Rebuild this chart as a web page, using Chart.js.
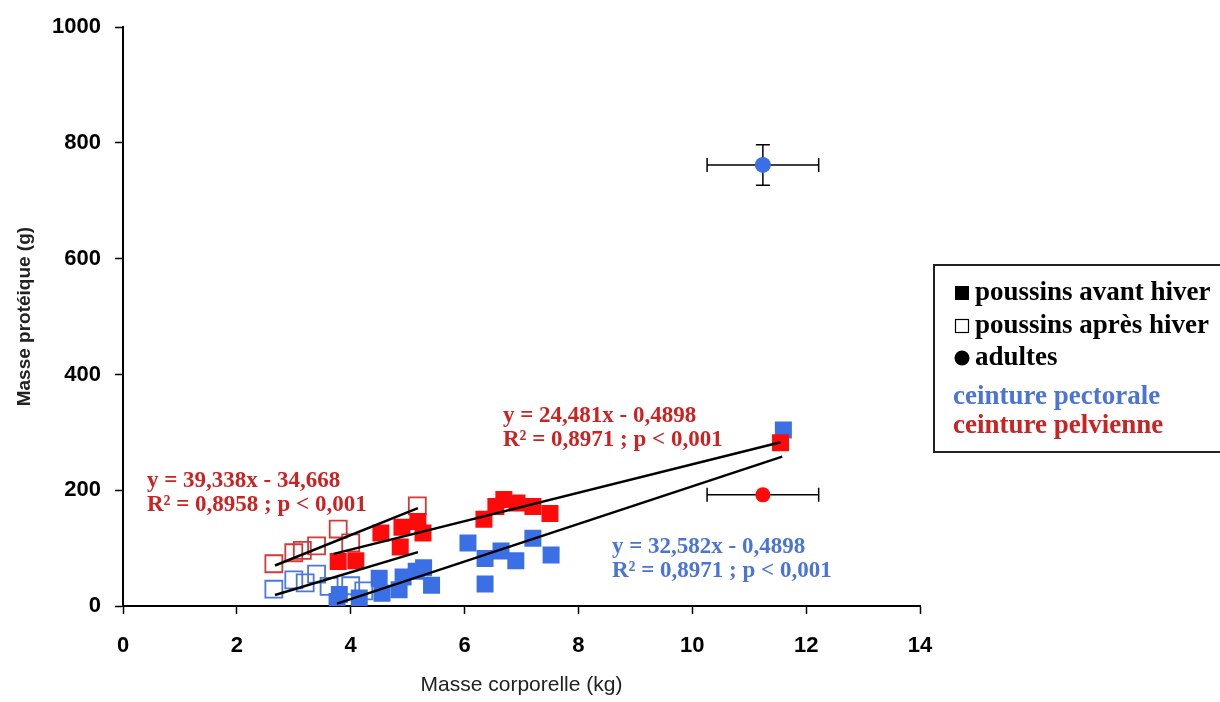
<!DOCTYPE html>
<html><head><meta charset="utf-8">
<script src="https://cdn.jsdelivr.net/npm/chart.js@4/dist/chart.umd.min.js"></script>
<style>html,body{margin:0;padding:0;background:#fff;}#wrap{width:1220px;height:702px;position:relative;}</style>
</head><body><div id="wrap"><canvas id="c" width="1220" height="702"></canvas></div>
<script>
// ---- data ----
const xTickValues = [0, 2, 4, 6, 8, 10, 12, 14];
const yTickValues = [0, 200, 400, 600, 800, 1000];

// ceinture pectorale (blue) – poussins avant hiver (filled squares)
const pectAvantX = [3.76, 3.80, 4.15, 4.50, 4.55, 4.85, 4.92, 5.15, 5.28, 5.42, 6.06, 6.36, 6.36, 6.64, 6.90, 7.20, 7.52, 11.60];
const pectAvantY = [8, 20, 14, 48, 22, 28, 50, 60, 66, 36, 109, 82, 38, 95, 78, 117, 88, 304];
// ceinture pectorale – poussins après hiver (hollow squares)
const pectApresX = [2.65, 3.00, 3.20, 3.40, 3.62, 4.00, 4.23];
const pectApresY = [29, 45, 40, 55, 34, 35, 26];
// ceinture pelvienne (red) – poussins avant hiver
const pelvAvantX = [3.78, 4.09, 4.53, 4.87, 4.90, 5.18, 5.27, 6.34, 6.55, 6.69, 6.92, 7.20, 7.50, 11.55];
const pelvAvantY = [77, 78, 126, 102, 136, 146, 126, 150, 172, 184, 178, 172, 160, 282];
// ceinture pelvienne – poussins après hiver
const pelvApresX = [2.65, 3.00, 3.15, 3.40, 3.78, 4.00, 5.17];
const pelvApresY = [73, 92, 96, 104, 133, 109, 173];
// adultes (mean ± error)
const adultPectX = [11.24], adultPectY = [762], adultPectXErr = [0.98], adultPectYErr = [35];
const adultPelvX = [11.24], adultPelvY = [192], adultPelvXErr = [0.98], adultPelvYErr = [0];
// regression lines (end points)
const trendPelvApresX = [2.67, 5.18], trendPelvApresY = [70, 169];
const trendPelvAvantX = [3.70, 11.55], trendPelvAvantY = [90, 283];
const trendPectApresX = [2.67, 5.18], trendPectApresY = [19, 93];
const trendPectAvantX = [3.76, 11.58], trendPectAvantY = [4, 258];

const equationsPelvApres = ['y = 39,338x - 34,668', 'R² = 0,8958 ; p < 0,001'];
const equationsPelvAvant = ['y = 24,481x - 0,4898', 'R² = 0,8971 ; p < 0,001'];
const equationsPectAvant = ['y = 32,582x - 0,4898', 'R² = 0,8971 ; p < 0,001'];
const legendLabels = ['poussins avant hiver', 'poussins après hiver', 'adultes', 'ceinture pectorale', 'ceinture pelvienne'];
const xTitle = 'Masse corporelle (kg)';
const yTitle = 'Masse protéique (g)';

// ---- styling ----
const BLUE = '#3b6fe6', RED = '#ff0a0a', RED_HOLLOW = '#d23a3a', BLUE_HOLLOW = '#4a78e0';
const RED_TXT = '#cc2222', BLUE_TXT = '#4a74d8';
const pts = (xs, ys) => xs.map((x, i) => ({x: x, y: ys[i]}));

function trend(xs, ys) {
  return {type: 'line', data: pts(xs, ys), borderColor: '#000', borderWidth: 2.5, pointRadius: 0,
    showLine: true, fill: false, order: 0, tension: 0};
}
function squares(xs, ys, color, filled) {
  return {type: 'scatter', data: pts(xs, ys), pointStyle: 'rect', pointRadius: 12, pointHoverRadius: 12,
    backgroundColor: filled ? color : 'rgba(255,255,255,0)', borderColor: color, borderWidth: filled ? 0 : 1.8, order: filled ? 2 : 3};
}
function circles(xs, ys, color, r) {
  return {type: 'scatter', data: pts(xs, ys), pointStyle: 'circle', pointRadius: r, pointHoverRadius: r,
    backgroundColor: color, borderColor: color, borderWidth: 0, order: 1};
}

const errorBars = {
  id: 'errorBars',
  beforeDatasetsDraw(chart) {
    const {ctx, scales: {x, y}} = chart;
    const sets = [[adultPectX, adultPectY, adultPectXErr, adultPectYErr], [adultPelvX, adultPelvY, adultPelvXErr, adultPelvYErr]];
    ctx.save();
    ctx.strokeStyle = '#000'; ctx.lineWidth = 1.5;
    sets.forEach(([xs, ys, xe, ye]) => {
      xs.forEach((xv, i) => {
        const cx = x.getPixelForValue(xv), cy = y.getPixelForValue(ys[i]);
        if (xe[i]) {
          const x1 = x.getPixelForValue(xv - xe[i]), x2 = x.getPixelForValue(xv + xe[i]);
          ctx.beginPath(); ctx.moveTo(x1, cy); ctx.lineTo(x2, cy);
          ctx.moveTo(x1, cy - 7); ctx.lineTo(x1, cy + 7);
          ctx.moveTo(x2, cy - 7); ctx.lineTo(x2, cy + 7); ctx.stroke();
        }
        if (ye[i]) {
          const y1 = y.getPixelForValue(ys[i] - ye[i]), y2 = y.getPixelForValue(ys[i] + ye[i]);
          ctx.beginPath(); ctx.moveTo(cx, y1); ctx.lineTo(cx, y2);
          ctx.moveTo(cx - 7, y1); ctx.lineTo(cx + 7, y1);
          ctx.moveTo(cx - 7, y2); ctx.lineTo(cx + 7, y2); ctx.stroke();
        }
      });
    });
    ctx.restore();
  }
};

const annotations = {
  id: 'annotations',
  afterDatasetsDraw(chart) {
    const ctx = chart.ctx;
    ctx.save();
    ctx.font = 'bold 23px "Liberation Serif", "Times New Roman", serif';
    ctx.textBaseline = 'middle'; ctx.textAlign = 'left';
    const put = (lines, color, x0, y0) => {
      ctx.fillStyle = color;
      lines.forEach((t, i) => ctx.fillText(t, x0, y0 + i * 24));
    };
    put(equationsPelvApres, RED_TXT, 147, 481);
    put(equationsPelvAvant, RED_TXT, 503, 416);
    put(equationsPectAvant, BLUE_TXT, 612, 547);

    // legend box
    ctx.strokeStyle = '#222'; ctx.lineWidth = 2;
    ctx.strokeRect(934, 265, 300, 187);
    ctx.font = 'bold 27px "Liberation Serif", "Times New Roman", serif';
    ctx.fillStyle = '#000';
    ctx.fillRect(955, 286, 14, 14);
    ctx.lineWidth = 1.2; ctx.strokeStyle = '#000';
    ctx.strokeRect(955.5, 319.5, 13, 13);
    ctx.beginPath(); ctx.arc(962, 358, 7.5, 0, Math.PI * 2); ctx.fill();
    ctx.fillText(legendLabels[0], 975, 293);
    ctx.fillText(legendLabels[1], 975, 326);
    ctx.fillText(legendLabels[2], 975, 358);
    ctx.fillStyle = BLUE_TXT; ctx.fillText(legendLabels[3], 953, 397);
    ctx.fillStyle = RED_TXT; ctx.fillText(legendLabels[4], 953, 426);
    ctx.restore();
  }
};

const tickFont = {family: '"Liberation Sans", Arial, sans-serif', size: 22, weight: 'bold'};

new Chart(document.getElementById('c'), {
  type: 'scatter',
  data: {datasets: [
    trend(trendPelvApresX, trendPelvApresY),
    trend(trendPelvAvantX, trendPelvAvantY),
    trend(trendPectApresX, trendPectApresY),
    trend(trendPectAvantX, trendPectAvantY),
    circles(adultPectX, adultPectY, BLUE, 8),
    circles(adultPelvX, adultPelvY, RED, 7.5),
    squares(pelvAvantX, pelvAvantY, RED, true),
    squares(pectAvantX, pectAvantY, BLUE, true),
    squares(pelvApresX, pelvApresY, RED_HOLLOW, false),
    squares(pectApresX, pectApresY, BLUE_HOLLOW, false)
  ]},
  options: {
    responsive: false, animation: false, devicePixelRatio: 1,
    layout: {padding: {left: 9, top: 27, right: 300, bottom: 0}},
    plugins: {legend: {display: false}, tooltip: {enabled: false}},
    scales: {
      x: {
        type: 'linear', min: 0, max: 14,
        afterBuildTicks: s => { s.ticks = xTickValues.map(v => ({value: v})); },
        afterFit: s => { s.height = 96; },
        grid: {drawOnChartArea: false, drawTicks: true, tickLength: 8, tickColor: '#000', tickWidth: 1.5},
        border: {color: '#000', width: 2},
        ticks: {color: '#000', padding: 19, font: tickFont, callback: v => String(v)},
        title: {display: true, text: xTitle, color: '#222', font: {family: '"Liberation Sans", Arial, sans-serif', size: 21}}
      },
      y: {
        type: 'linear', min: 0, max: 1000,
        afterBuildTicks: s => { s.ticks = yTickValues.map(v => ({value: v})); },
        afterFit: s => { s.width = 114; },
        grid: {drawOnChartArea: false, drawTicks: true, tickLength: 8, tickColor: '#000', tickWidth: 1.5},
        border: {color: '#000', width: 2},
        ticks: {color: '#000', padding: 14, font: tickFont, callback: v => String(v)},
        title: {display: true, text: yTitle, color: '#222', font: {family: '"Liberation Sans", Arial, sans-serif', size: 19, weight: 'bold'}}
      }
    }
  },
  plugins: [errorBars, annotations]
});
</script></body></html>
